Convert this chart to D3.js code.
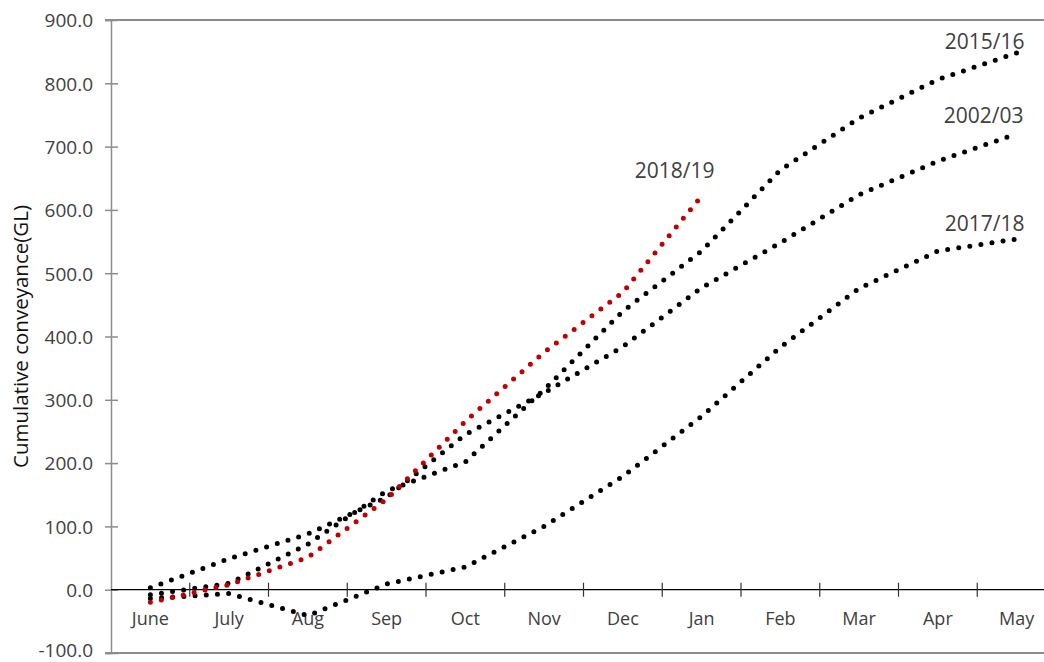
<!DOCTYPE html>
<html>
<head>
<meta charset="utf-8">
<script src="https://cdn.jsdelivr.net/npm/d3@7"></script>
<style>
  html, body { margin: 0; padding: 0; background: #fff; }
  svg { display: block; font-family: "Open Sans", sans-serif; }
</style>
</head>
<body>
<svg id="chart" width="1044" height="662"></svg>
<script>
// ---- data ----
const months = ["June", "July", "Aug", "Sep", "Oct", "Nov", "Dec", "Jan", "Feb", "Mar", "Apr", "May"];
const yTicks = [-100, 0, 100, 200, 300, 400, 500, 600, 700, 800, 900];
const seriesNames = ["2002/03", "2015/16", "2017/18", "2018/19"];
const values200203 = [3, 49, 88, 146, 245, 311, 384, 477, 548, 624, 677, 720];
const values201516 = [-8, 10, 72, 156, 202, 316, 440, 535, 663, 745, 806, 848];
const values201718 = [-14, -6, -41, 9, 36, 100, 179, 274, 383, 476, 535, 554];
const values201819 = [-20, 8, 51, 143, 266, 375, 470, 622];
const yTitle = "Cumulative conveyance(GL)";

(function () {
// ---- layout ----
const svg = d3.select("#chart");
const plotLeft = 111, plotTop = 20, plotBottom = 653, band = 78.75;
const x = d3.scaleBand().domain(months).range([plotLeft, plotLeft + band * months.length]).padding(0);
const y = d3.scaleLinear().domain([-100, 900]).range([plotBottom, plotTop]);
const cx = m => x(m) + x.bandwidth() / 2;

const textColor = "#404040";
const frameColor = "#8c8c8c";

// top border
svg.append("line").attr("x1", plotLeft - 6).attr("x2", 1044).attr("y1", y(900)).attr("y2", y(900))
  .attr("stroke", frameColor).attr("stroke-width", 2);
// bottom border
svg.append("line").attr("x1", plotLeft - 6).attr("x2", 1044).attr("y1", y(-100)).attr("y2", y(-100))
  .attr("stroke", frameColor).attr("stroke-width", 2);

// y axis
const yAxis = svg.append("g").attr("transform", `translate(${plotLeft},0)`)
  .call(d3.axisLeft(y).tickValues(yTicks).tickFormat(d => d.toFixed(1)).tickSize(6).tickPadding(12));
yAxis.select(".domain").attr("stroke", frameColor).attr("stroke-width", 1.5);
yAxis.selectAll(".tick line").attr("x1", 7).attr("x2", -6).attr("stroke", frameColor).attr("stroke-width", 1.5);
yAxis.selectAll(".tick text").attr("fill", textColor).attr("font-size", 19)
  .attr("font-family", "Open Sans, sans-serif")
  .attr("dy", d => d === -100 ? "0.2em" : "0.36em");

// x axis at zero
const xAxisG = svg.append("g").attr("transform", `translate(0,${y(0)})`);
xAxisG.append("line").attr("x1", plotLeft).attr("x2", 1044).attr("y1", 0).attr("y2", 0)
  .attr("stroke", "#000").attr("stroke-width", 1.2);
xAxisG.selectAll("line.tick").data(months.slice(1)).join("line").attr("class", "tick")
  .attr("x1", d => x(d)).attr("x2", d => x(d)).attr("y1", -7).attr("y2", 7)
  .attr("stroke", "#333").attr("stroke-width", 1.2);
xAxisG.selectAll("text").data(months).join("text")
  .attr("x", d => cx(d)).attr("y", 35).attr("text-anchor", "middle")
  .attr("fill", textColor).attr("font-size", 18).text(d => d);

// y title
svg.append("text").attr("transform", `translate(28,${(y(900) + y(-100)) / 2}) rotate(-90)`)
  .attr("text-anchor", "middle").attr("fill", "#111").attr("font-size", 20.5).text(yTitle);

// series
const allValues = [values200203, values201516, values201718, values201819];
const colors = ["#000", "#000", "#000", "#c00000"];
const labelOffsets = [[-33, -11], [-32, -4], [-32, -8], [-27, -18]];
const line = d3.line().x(d => d[0]).y(d => d[1]);

allValues.forEach((vals, i) => {
  const pts = vals.map((v, j) => [cx(months[j]), y(v)]);
  svg.append("path").attr("d", line(pts)).attr("fill", "none")
    .attr("stroke", colors[i]).attr("stroke-width", 5)
    .attr("stroke-linecap", "round").attr("stroke-dasharray", "0 11.2");
});

allValues.forEach((vals, i) => {
  const last = vals.length - 1;
  svg.append("text")
    .attr("x", cx(months[last]) + labelOffsets[i][0])
    .attr("y", y(vals[last]) + labelOffsets[i][1])
    .attr("text-anchor", "middle").attr("fill", textColor).attr("font-size", 21)
    .text(seriesNames[i]);
});
})();
</script>
</body>
</html>
